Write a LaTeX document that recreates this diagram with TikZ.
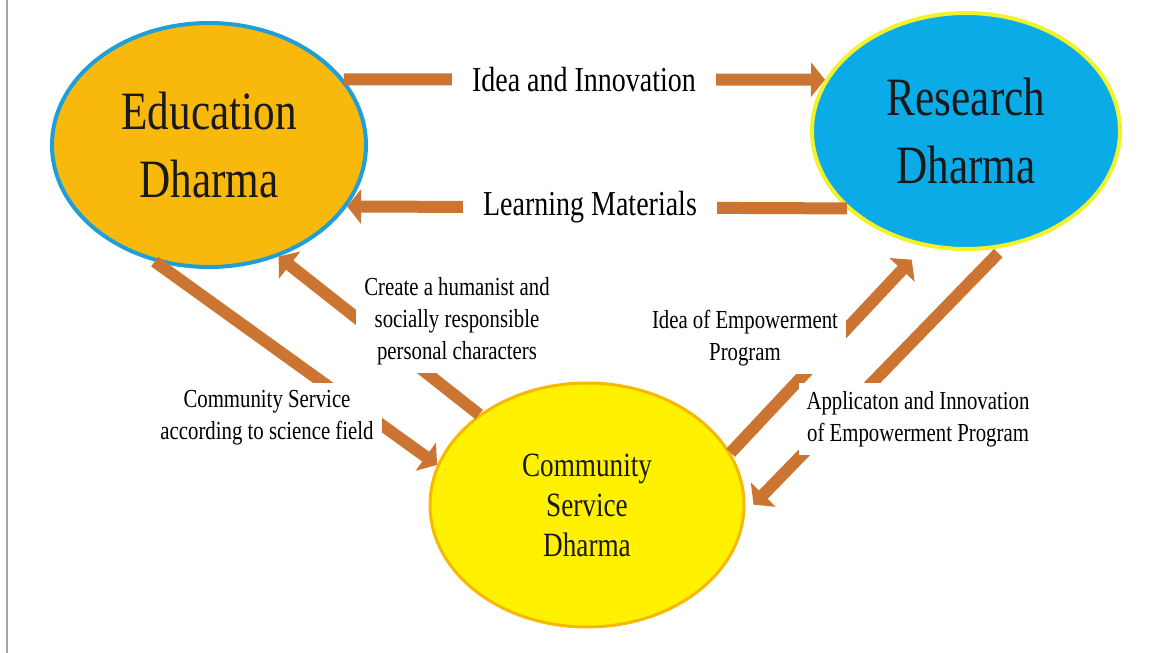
\documentclass[tikz,border=0pt]{standalone}
\usepackage{fontspec}
\setmainfont{Liberation Serif}[FakeStretch=0.8]
\usetikzlibrary{arrows.meta,shapes.geometric}

\definecolor{edufill}{HTML}{F9B90C}
\definecolor{eduline}{HTML}{1E9FD8}
\definecolor{resfill}{HTML}{0AABE6}
\definecolor{resline}{HTML}{F2F22A}
\definecolor{comfill}{HTML}{FFF100}
\definecolor{comline}{HTML}{F6B800}
\definecolor{pipeorange}{HTML}{CC7533}

\begin{document}
\begin{tikzpicture}[x=0.5pt,y=-0.5pt,
  dharma/.style={ellipse,line width=2pt,inner sep=0pt,align=center,text=black!90},
  pipe/.style={line width=6pt,draw=pipeorange,-{Triangle[width=17pt,length=7pt]}},
  lbl/.style={fill=white,inner sep=4pt,align=center,font=\fontsize{13}{16}\selectfont}]
  \useasboundingbox (0,0) rectangle (1157,653);
  \draw[gray!70,line width=0.8pt] (7,0) -- (7,653);
  \node[dharma,fill=edufill,draw=eduline,minimum width=157pt,minimum height=122pt,font=\fontsize{27}{34}\selectfont] (edu) at (209,145) {Education\\Dharma};
  \node[dharma,fill=resfill,draw=resline,minimum width=154pt,minimum height=118pt,font=\fontsize{27}{34}\selectfont] (res) at (966,131) {Research\\Dharma};
  \node[dharma,fill=comfill,draw=comline,line width=1.5pt,minimum width=157pt,minimum height=122pt,font=\fontsize{17}{20}\selectfont] (com) at (587,505) {Community\\Service\\Dharma};
  \draw[pipe] (edu.26) -- (res.160);
  \draw[pipe] (res.213) -- (edu.336);
  \draw[pipe] (edu.245) -- (com.165);
  \draw[pipe] (com.140) -- (edu.302);
  \draw[pipe,shorten >=9pt] (com.20) -- (res.250);
  \draw[pipe,shorten <=4pt,shorten >=6pt] (res.288) -- (com.357);
  \node[lbl,inner xsep=10pt,font=\fontsize{17.5}{21}\selectfont] (ideal) at (584,80) {Idea and Innovation};
  \node[lbl,inner xsep=10pt,font=\fontsize{17.5}{21}\selectfont] (learnl) at (590,207) {Learning Materials};
  \node[lbl] (servl) at (267,418) {Community Service\\according to science field};
  \node[lbl] (humanl) at (457,321) {Create a humanist and\\socially responsible\\personal characters};
  \node[lbl] (empl) at (745,338) {Idea of Empowerment\\Program};
  \node[lbl] (applyl) at (918,419) {Applicaton and Innovation\\of Empowerment Program};
\end{tikzpicture}
\end{document}
